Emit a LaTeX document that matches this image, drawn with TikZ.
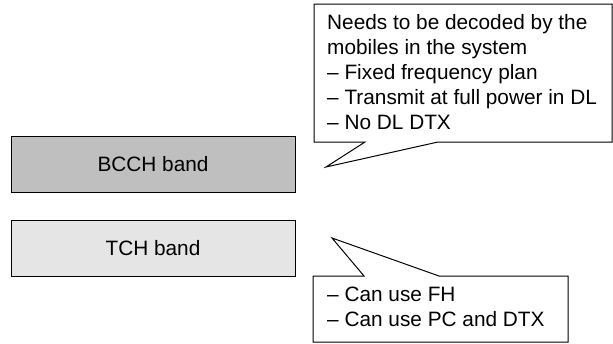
\documentclass[tikz,border=0pt]{standalone}
\usepackage{fontspec}
\setmainfont{Liberation Sans}
\begin{document}
\begin{tikzpicture}[x=1pt,y=-1pt,
  txt/.style={font=\fontsize{20.8}{25}\selectfont, inner sep=0pt},
  band/.style={draw=black, line width=1pt, minimum width=284pt, minimum height=56pt, txt},
  notetext/.style={txt, align=left, anchor=west},
  outline/.style={draw=black, line width=1pt, fill=white, line join=miter}
]
\useasboundingbox (0,0) rectangle (613,343);

% frequency bands
\node[band, fill=black!25] (bcch) at (153,164) {BCCH band};
\node[band, fill=black!10] (tch) at (153,248) {TCH band};

% callout for the BCCH band
\coordinate (a1) at (314,4);
\coordinate (a2) at (612,4);
\coordinate (a3) at (612,142);
\coordinate (a4) at (438,142);
\coordinate (atip) at (326,167);
\coordinate (a5) at (365,142);
\coordinate (a6) at (314,142);
\draw[outline] (a1) -- (a2) -- (a3) -- (a4) -- (atip) -- (a5) -- (a6) -- cycle;
\node[notetext] (bcchnote) at (327,72) {Needs to be decoded by the\\mobiles in the system\\-- Fixed frequency plan\\-- Transmit at full power in DL\\-- No DL DTX};

% callout for the TCH band
\coordinate (b1) at (313,276);
\coordinate (b2) at (364,276);
\coordinate (btip) at (332,238);
\coordinate (b3) at (439,276);
\coordinate (b4) at (568,276);
\coordinate (b5) at (568,342);
\coordinate (b6) at (313,342);
\draw[outline] (b1) -- (b2) -- (btip) -- (b3) -- (b4) -- (b5) -- (b6) -- cycle;
\node[notetext] (tchnote) at (327,307) {-- Can use FH\\-- Can use PC and DTX};
\end{tikzpicture}
\end{document}
